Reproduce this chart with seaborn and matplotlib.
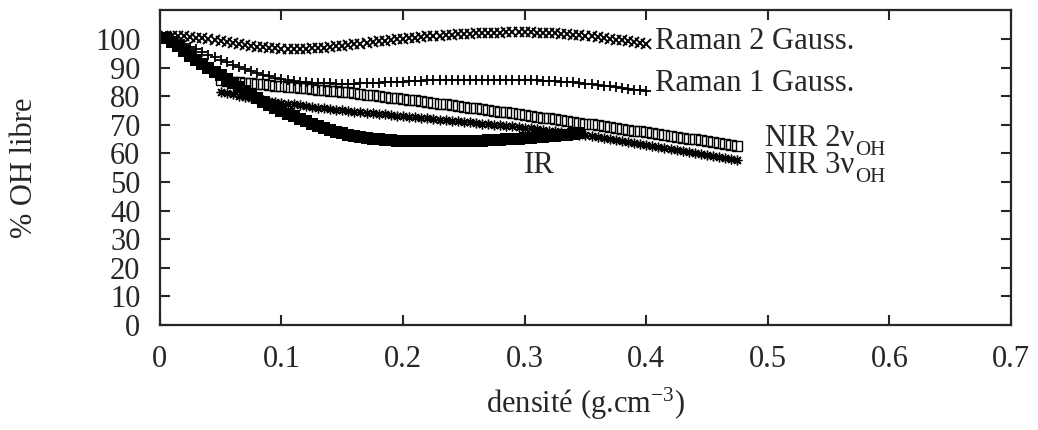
import matplotlib
matplotlib.use("Agg")
import matplotlib.pyplot as plt
import seaborn as sns

# densités (g.cm-3)
dens_raman = [0.005, 0.010, 0.015, 0.020, 0.025, 0.030, 0.035, 0.040, 0.045, 0.050,
              0.055, 0.060, 0.065, 0.070, 0.075, 0.080, 0.085, 0.090, 0.095, 0.100,
              0.105, 0.110, 0.115, 0.120, 0.125, 0.130, 0.135, 0.140, 0.145, 0.150,
              0.155, 0.160, 0.165, 0.170, 0.175, 0.180, 0.185, 0.190, 0.195, 0.200,
              0.205, 0.210, 0.215, 0.220, 0.225, 0.230, 0.235, 0.240, 0.245, 0.250,
              0.255, 0.260, 0.265, 0.270, 0.275, 0.280, 0.285, 0.290, 0.295, 0.300,
              0.305, 0.310, 0.315, 0.320, 0.325, 0.330, 0.335, 0.340, 0.345, 0.350,
              0.355, 0.360, 0.365, 0.370, 0.375, 0.380, 0.385, 0.390, 0.395, 0.400]
dens_nir = [0.050, 0.055, 0.060, 0.065, 0.070, 0.075, 0.080, 0.085, 0.090, 0.095,
            0.100, 0.105, 0.110, 0.115, 0.120, 0.125, 0.130, 0.135, 0.140, 0.145,
            0.150, 0.155, 0.160, 0.165, 0.170, 0.175, 0.180, 0.185, 0.190, 0.195,
            0.200, 0.205, 0.210, 0.215, 0.220, 0.225, 0.230, 0.235, 0.240, 0.245,
            0.250, 0.255, 0.260, 0.265, 0.270, 0.275, 0.280, 0.285, 0.290, 0.295,
            0.300, 0.305, 0.310, 0.315, 0.320, 0.325, 0.330, 0.335, 0.340, 0.345,
            0.350, 0.355, 0.360, 0.365, 0.370, 0.375, 0.380, 0.385, 0.390, 0.395,
            0.400, 0.405, 0.410, 0.415, 0.420, 0.425, 0.430, 0.435, 0.440, 0.445,
            0.450, 0.455, 0.460, 0.465, 0.470, 0.475]
dens_ir = dens_raman[:69]  # IR s'arrete a 0.345

# % OH libre
raman2 = [101.0, 101.0, 101.0, 100.9, 100.7, 100.5, 100.3, 100.0, 99.7, 99.3,
          99.0, 98.6, 98.3, 97.9, 97.6, 97.3, 97.1, 96.9, 96.7, 96.6,
          96.5, 96.5, 96.5, 96.6, 96.7, 96.8, 97.0, 97.2, 97.4, 97.7,
          97.9, 98.2, 98.4, 98.7, 98.9, 99.2, 99.4, 99.7, 99.9, 100.1,
          100.3, 100.5, 100.7, 100.9, 101.0, 101.2, 101.4, 101.5, 101.6, 101.7,
          101.8, 101.9, 102.0, 102.1, 102.2, 102.2, 102.3, 102.3, 102.3, 102.3,
          102.3, 102.2, 102.2, 102.1, 102.0, 101.8, 101.7, 101.5, 101.3, 101.1,
          100.9, 100.6, 100.4, 100.1, 99.8, 99.5, 99.2, 98.9, 98.6, 98.3]
raman1 = [101.0, 100.2, 99.2, 98.3, 97.3, 96.4, 95.4, 94.5, 93.6, 92.7,
          91.8, 91.0, 90.2, 89.4, 88.7, 88.0, 87.4, 86.9, 86.4, 86.0,
          85.6, 85.3, 85.0, 84.8, 84.7, 84.6, 84.5, 84.5, 84.4, 84.4,
          84.4, 84.4, 84.5, 84.5, 84.6, 84.7, 84.8, 84.9, 85.0, 85.1,
          85.2, 85.3, 85.4, 85.5, 85.5, 85.6, 85.6, 85.7, 85.7, 85.7,
          85.8, 85.8, 85.8, 85.8, 85.8, 85.8, 85.8, 85.7, 85.7, 85.7,
          85.6, 85.5, 85.4, 85.3, 85.2, 85.1, 84.9, 84.8, 84.6, 84.4,
          84.2, 84.0, 83.7, 83.5, 83.2, 82.9, 82.6, 82.3, 82.0, 81.7]
ir = [100.5, 99.0, 97.4, 95.8, 94.2, 92.8, 91.4, 90.0, 88.6, 87.3,
      85.9, 84.6, 83.2, 81.9, 80.6, 79.3, 78.1, 77.0, 75.9, 74.9,
      73.9, 73.0, 72.1, 71.2, 70.4, 69.6, 68.9, 68.2, 67.6, 67.0,
      66.5, 66.1, 65.7, 65.4, 65.1, 64.9, 64.7, 64.6, 64.5, 64.4,
      64.3, 64.3, 64.2, 64.2, 64.2, 64.2, 64.2, 64.2, 64.3, 64.3,
      64.4, 64.4, 64.5, 64.6, 64.7, 64.8, 64.9, 65.0, 65.2, 65.3,
      65.5, 65.6, 65.8, 66.0, 66.2, 66.4, 66.6, 66.8, 67.0]
nir2 = [85.5, 85.3, 85.1, 84.9, 84.7, 84.5, 84.3, 84.1, 83.9, 83.7,
        83.5, 83.3, 83.1, 82.9, 82.7, 82.5, 82.3, 82.1, 81.9, 81.7,
        81.5, 81.3, 81.0, 80.8, 80.5, 80.3, 80.0, 79.8, 79.5, 79.3,
        79.0, 78.7, 78.5, 78.2, 77.9, 77.7, 77.4, 77.1, 76.9, 76.6,
        76.3, 76.0, 75.7, 75.4, 75.2, 74.9, 74.6, 74.3, 74.0, 73.7,
        73.4, 73.1, 72.8, 72.5, 72.2, 71.9, 71.6, 71.3, 71.0, 70.7,
        70.4, 70.1, 69.8, 69.5, 69.2, 68.9, 68.6, 68.3, 68.0, 67.7,
        67.4, 67.1, 66.8, 66.5, 66.2, 65.9, 65.5, 65.2, 64.9, 64.6,
        64.2, 63.9, 63.6, 63.3, 62.9, 62.6]
nir3 = [81.5, 81.0, 80.6, 80.2, 79.8, 79.4, 79.0, 78.7, 78.3, 78.0,
        77.7, 77.4, 77.1, 76.8, 76.5, 76.3, 76.0, 75.8, 75.5, 75.3,
        75.1, 74.8, 74.6, 74.4, 74.2, 74.0, 73.8, 73.6, 73.4, 73.2,
        73.0, 72.8, 72.6, 72.4, 72.2, 72.0, 71.8, 71.6, 71.4, 71.2,
        71.0, 70.8, 70.6, 70.4, 70.2, 70.0, 69.8, 69.6, 69.4, 69.2,
        69.0, 68.8, 68.5, 68.3, 68.0, 67.8, 67.5, 67.2, 66.9, 66.6,
        66.3, 66.0, 65.7, 65.3, 65.0, 64.6, 64.3, 63.9, 63.6, 63.2,
        62.9, 62.5, 62.2, 61.8, 61.5, 61.1, 60.8, 60.4, 60.1, 59.7,
        59.4, 59.0, 58.7, 58.3, 58.0, 57.6]

sns.set_style("ticks")
plt.rcParams['font.family'] = ['Liberation Serif', 'DejaVu Serif']
plt.rcParams['mathtext.fontset'] = 'custom'
plt.rcParams['mathtext.rm'] = 'Liberation Serif'
plt.rcParams['mathtext.it'] = 'Liberation Serif:italic'

FS = 22

fig = plt.figure(figsize=(10.38, 4.30), dpi=100)
ax = fig.add_axes([0.154, 0.244, 0.820, 0.732])

common = dict(color='black', markeredgecolor='black', linestyle='',
              estimator=None, sort=False, ax=ax)
sns.lineplot(x=dens_ir, y=ir, marker='s', markersize=8, markeredgewidth=0, **common)
sns.lineplot(x=dens_raman, y=raman2, marker='x', markersize=6.5, markeredgewidth=1.4, **common)
sns.lineplot(x=dens_raman, y=raman1, marker='+', markersize=7.5, markeredgewidth=1.3, **common)
sns.lineplot(x=dens_nir, y=nir2, marker='s', markersize=6.5, markeredgewidth=1.0,
             markerfacecolor='none', **common)
sns.lineplot(x=dens_nir, y=nir3, marker=(8, 2, 0), markersize=7, markeredgewidth=1.0, **common)

ax.text(0.407, 96.5, 'Raman 2 Gauss.', fontsize=FS, va='baseline')
ax.text(0.407, 81.8, 'Raman 1 Gauss.', fontsize=FS, va='baseline')
ax.text(0.299, 53.3, 'IR', fontsize=FS, va='baseline')

# NIR labels, indice OH abaisse comme dans gnuplot
for lab, ybase in [('NIR 2ν', 62.5), ('NIR 3ν', 53.3)]:
    t = ax.text(0.498, ybase, lab, fontsize=FS, va='baseline')
    ax.annotate('OH', xy=(1, 0), xycoords=t, xytext=(0.5, -1.5),
                textcoords='offset points', fontsize=15, va='baseline')

ax.set_xlim(0, 0.7)
ax.set_ylim(0, 110)
ax.set_xticks([0, 0.1, 0.2, 0.3, 0.4, 0.5, 0.6, 0.7])
ax.set_xticklabels(['0', '0.1', '0.2', '0.3', '0.4', '0.5', '0.6', '0.7'])
ax.set_yticks(range(0, 101, 10))
ax.tick_params(direction='in', top=True, right=True, length=7, width=1.5,
               labelsize=FS)
ax.tick_params(axis='x', pad=14)
ax.tick_params(axis='y', pad=14)
for s in ax.spines.values():
    s.set_linewidth(1.6)

ax.set_xlabel(r'densité (g.cm$^{-3}$)', fontsize=FS, va='baseline')
ax.xaxis.set_label_coords(0.5, -0.279)
ax.set_ylabel('% OH libre', fontsize=FS)
ax.yaxis.set_label_coords(-0.142, 0.5)

fig.savefig('out.png', dpi=100)
